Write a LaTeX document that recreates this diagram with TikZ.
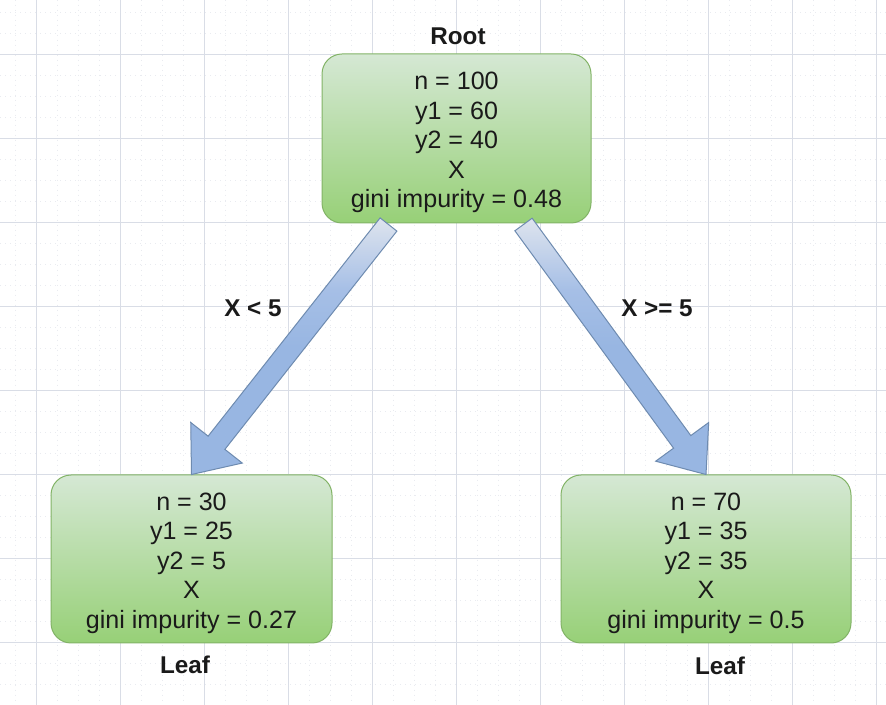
\documentclass[tikz,border=0pt]{standalone}
\usepackage{fontspec}
\setmainfont{Liberation Sans}
\usetikzlibrary{calc}
\definecolor{gridmaj}{HTML}{D9DDE6}
\definecolor{gridmin}{HTML}{E9EBF0}
\definecolor{gtop}{HTML}{D5E8D4}
\definecolor{gbot}{HTML}{97D077}
\definecolor{gline}{HTML}{82B366}
\definecolor{btop}{HTML}{DEE4EE}
\definecolor{bmid}{HTML}{A6BFE6}
\definecolor{bbot}{HTML}{98B6E2}
\definecolor{bline}{HTML}{6E8BB0}
\definecolor{ink}{HTML}{1A1A1A}
\pgfdeclareverticalshading{arrowshade}{100bp}{color(0bp)=(bbot); color(25bp)=(bbot); color(50bp)=(bbot); color(61bp)=(bmid); color(75bp)=(btop); color(100bp)=(btop)}
\begin{document}
\begin{tikzpicture}[x=0.75pt,y=-0.75pt,
 box/.style={draw=gline, line width=0.75pt, rounded corners=15pt, top color=gtop, bottom color=gbot, inner sep=0pt},
 boxtext/.style={align=center, inner sep=0pt, text=ink, font=\fontsize{18.8}{22.1}\selectfont},
 lbl/.style={font=\fontsize{18.2}{21}\selectfont\bfseries, text=ink, inner sep=0pt},
 bigarrow/.style={draw=bline, line width=0.75pt, shading=arrowshade},
 minline/.style={gridmin, line width=0.75pt, dash pattern=on 0.75pt off 3pt},
 majline/.style={gridmaj, line width=0.75pt}]
\fill[white] (0,0) rectangle (886,705);
\useasboundingbox (0,0) rectangle (886,705);
% grid
\foreach \x in {15,36,...,876} \draw[minline] (\x,0) -- (\x,705);
\foreach \y in {13,34,...,705} \draw[minline] (0,\y) -- (886,\y);
\foreach \x in {36,120,...,876} \draw[majline] (\x,0) -- (\x,705);
\foreach \y in {55,139,...,643} \draw[majline] (0,\y) -- (886,\y);
% boxes
\node[box, minimum width=201.75pt, minimum height=126.75pt] (root) at (456.5,138.5) {};
\node[boxtext] (rootText) at ($(root.center)+(0,4)$)
  {n = 100\\y1 = 60\\y2 = 40\\X\\gini impurity = 0.48};
\node[box, minimum width=210.75pt, minimum height=126pt] (leafL) at (191.5,559) {};
\node[boxtext] (leafLText) at ($(leafL.center)+(0,4)$)
  {n = 30\\y1 = 25\\y2 = 5\\X\\gini impurity = 0.27};
\node[box, minimum width=217.5pt, minimum height=126pt] (leafR) at (706,559) {};
\node[boxtext] (leafRText) at ($(leafR.center)+(0,4)$)
  {n = 70\\y1 = 35\\y2 = 35\\X\\gini impurity = 0.5};
% arrows
\coordinate (a1) at ($(root.south)+(-68,1)$);
\coordinate (t1) at (leafL.north);
\coordinate (b1) at ($(t1)!30.3pt!(a1)$);
\path[bigarrow] ($(a1)!8pt!90:(t1)$) -- ($(b1)!8pt!90:(t1)$) -- ($(b1)!24.6pt!90:(t1)$) -- (t1)
  -- ($(b1)!24.6pt!-90:(t1)$) -- ($(b1)!8pt!-90:(t1)$) -- ($(a1)!8pt!-90:(t1)$) -- cycle;
\coordinate (a2) at ($(root.south)+(67,1)$);
\coordinate (t2) at (leafR.north);
\coordinate (b2) at ($(t2)!30.3pt!(a2)$);
\path[bigarrow] ($(a2)!8pt!90:(t2)$) -- ($(b2)!8pt!90:(t2)$) -- ($(b2)!24.6pt!90:(t2)$) -- (t2)
  -- ($(b2)!24.6pt!-90:(t2)$) -- ($(b2)!8pt!-90:(t2)$) -- ($(a2)!8pt!-90:(t2)$) -- cycle;
% labels
\node[lbl] (rootlbl) at (458,36) {Root};
\node[lbl] (leafLlbl) at (185,665) {Leaf};
\node[lbl] (leafRlbl) at (720,666) {Leaf};
\node[lbl] (cond1) at (253,308) {X < 5};
\node[lbl] (cond2) at (657,308) {X >= 5};
\end{tikzpicture}
\end{document}
